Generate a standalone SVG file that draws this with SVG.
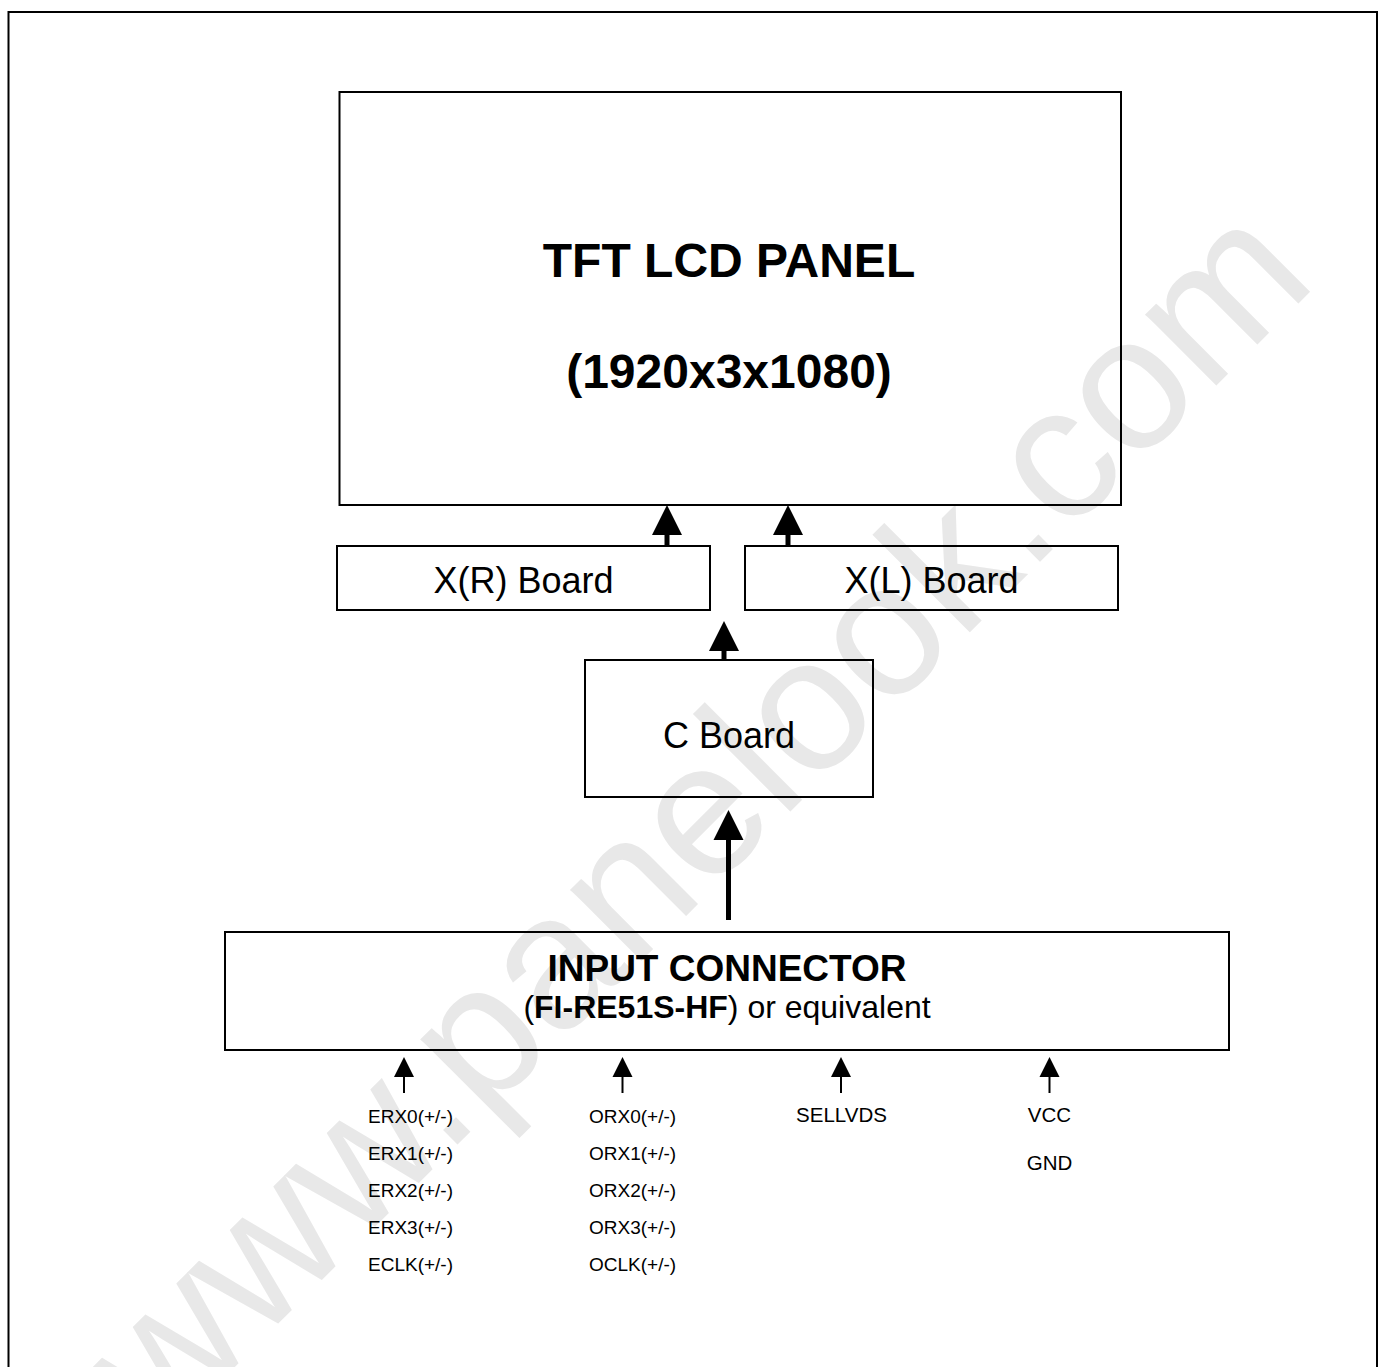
<svg xmlns="http://www.w3.org/2000/svg" width="1385" height="1367" viewBox="0 0 1385 1367">
<style>
text{font-family:"Liberation Sans",Arial,Helvetica,sans-serif;fill:#000}
.box{fill:none;stroke:#000;stroke-width:2}
.wm{fill:#e8e8e8;font-size:190px}
.title{font-size:48px;font-weight:bold}
.lbl{font-size:36px}
.sig{font-size:19px}
.sig2{font-size:20.5px}
.big{stroke:#000;stroke-width:5;fill:none}
.small{stroke:#000;stroke-width:2;fill:none}
</style>
<defs>
<marker id="headBig" markerUnits="userSpaceOnUse" markerWidth="32" markerHeight="32" viewBox="0 -16 32 32" refX="0" refY="0" orient="auto" overflow="visible">
<path d="M0,-15 L30,0 L0,15 Z" fill="#000"/>
</marker>
<marker id="headSmall" markerUnits="userSpaceOnUse" markerWidth="22" markerHeight="22" viewBox="0 -11 22 22" refX="0" refY="0" orient="auto" overflow="visible">
<path d="M0,-10 L20,0 L0,10 Z" fill="#000"/>
</marker>
</defs>
<rect width="1385" height="1367" fill="#fff"/>
<text class="wm" transform="translate(161.5 1440.3) rotate(-45)">www.panelook.com</text>
<path d="M8.5,1367 V12 H1377 V1367" fill="none" stroke="#000" stroke-width="2"/>
<g id="tft-panel">
<rect class="box" x="339.5" y="92" width="781.5" height="413" stroke-width="2.5"/>
<text class="title" x="729" y="277" text-anchor="middle">TFT LCD PANEL</text>
<text class="title" x="729" y="388" text-anchor="middle">(1920x3x1080)</text>
</g>
<g id="xr-board">
<rect class="box" x="337" y="546" width="373" height="64"/>
<text class="lbl" x="523.5" y="593" text-anchor="middle">X(R) Board</text>
</g>
<g id="xl-board">
<rect class="box" x="745" y="546" width="373" height="64"/>
<text class="lbl" x="931.5" y="593" text-anchor="middle">X(L) Board</text>
</g>
<g id="c-board">
<rect class="box" x="585" y="660" width="288" height="137"/>
<text class="lbl" x="729" y="748" text-anchor="middle">C Board</text>
</g>
<g id="input-connector">
<rect class="box" x="225" y="932" width="1004" height="118"/>
<text x="727" y="981" text-anchor="middle" font-size="37" font-weight="bold">INPUT CONNECTOR</text>
<text x="727" y="1018" text-anchor="middle" font-size="32">(<tspan font-weight="bold">FI-RE51S-HF</tspan>) or equivalent</text>
</g>
<g id="signals-even">
<text class="sig" x="368" y="1123">ERX0(+/-)</text>
<text class="sig" x="368" y="1160">ERX1(+/-)</text>
<text class="sig" x="368" y="1197">ERX2(+/-)</text>
<text class="sig" x="368" y="1234">ERX3(+/-)</text>
<text class="sig" x="368" y="1271">ECLK(+/-)</text>
</g>
<g id="signals-odd">
<text class="sig" x="589" y="1123">ORX0(+/-)</text>
<text class="sig" x="589" y="1160">ORX1(+/-)</text>
<text class="sig" x="589" y="1197">ORX2(+/-)</text>
<text class="sig" x="589" y="1234">ORX3(+/-)</text>
<text class="sig" x="589" y="1271">OCLK(+/-)</text>
</g>
<g id="signal-sellvds">
<text class="sig2" x="841.5" y="1122" text-anchor="middle">SELLVDS</text>
</g>
<g id="signal-power">
<text class="sig2" x="1049.5" y="1122" text-anchor="middle">VCC</text>
<text class="sig2" x="1049.5" y="1170" text-anchor="middle">GND</text>
</g>
<g id="connectors">
<path class="big" d="M667,546 V535" marker-end="url(#headBig)"/>
<path class="big" d="M788,546 V535" marker-end="url(#headBig)"/>
<path class="big" d="M724,660 V651" marker-end="url(#headBig)"/>
<path class="big" d="M728.5,920 V840" marker-end="url(#headBig)"/>
<path class="small" d="M404,1093 V1077" marker-end="url(#headSmall)"/>
<path class="small" d="M622.5,1093 V1077" marker-end="url(#headSmall)"/>
<path class="small" d="M841,1093 V1077" marker-end="url(#headSmall)"/>
<path class="small" d="M1049.5,1093 V1077" marker-end="url(#headSmall)"/>
</g>
</svg>
